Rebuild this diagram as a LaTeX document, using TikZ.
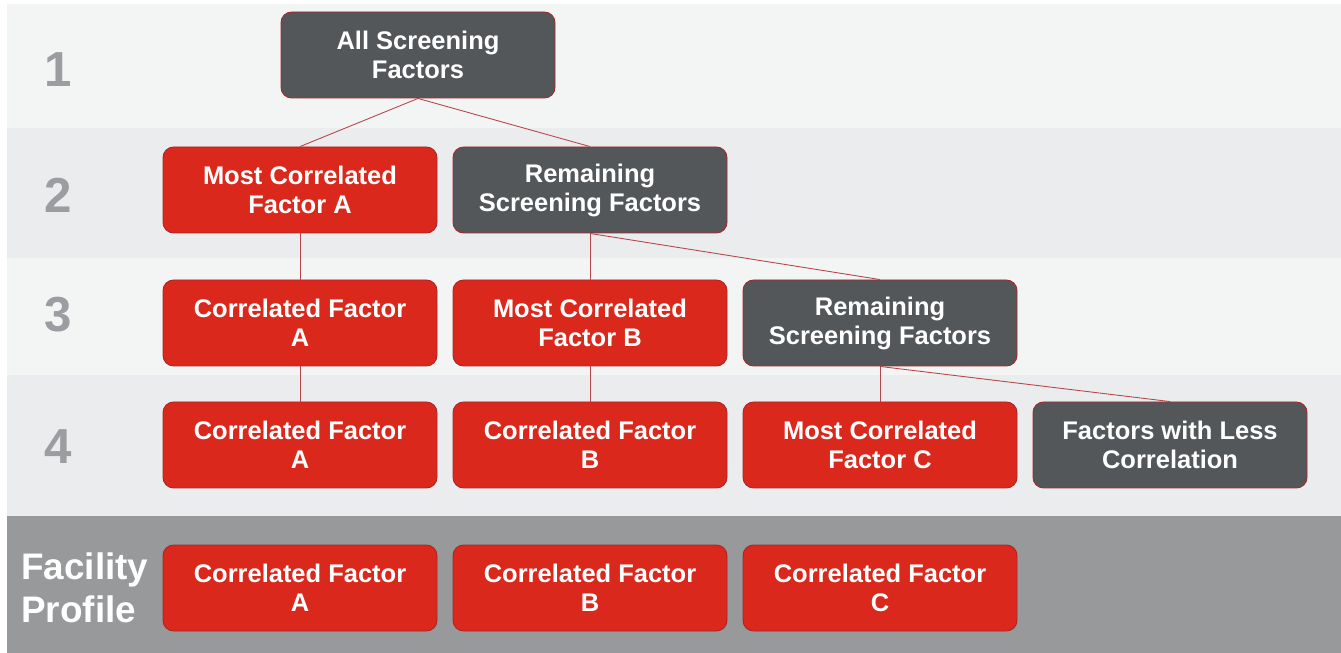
\documentclass[tikz,border=0pt]{standalone}
\usepackage{fontspec}
\setmainfont{Liberation Sans}
\usepackage{xcolor}
\usetikzlibrary{positioning,calc,backgrounds}

\definecolor{bandLight}{HTML}{F3F4F4}
\definecolor{bandDark}{HTML}{EBECEE}
\definecolor{bandGray}{HTML}{97999B}
\definecolor{factRed}{HTML}{DA291C}
\definecolor{factGray}{HTML}{54575A}
\definecolor{edgeRed}{HTML}{A8262A}
\definecolor{numGray}{HTML}{9B9DA0}

\begin{document}
\begin{tikzpicture}[
    font=\bfseries\fontsize{14.5}{16.5}\selectfont,
    factorBox/.style={
        rectangle, rounded corners=6pt, draw=edgeRed, line width=0.5pt,
        minimum width=5.48cm, minimum height=1.72cm, align=center,
        inner sep=2pt, text=white
    },
    redBox/.style={factorBox, fill=factRed},
    grayBox/.style={factorBox, fill=factGray},
    rowNum/.style={
        text=numGray, font=\bfseries\fontsize{28}{30}\selectfont
    },
    treeLine/.style={draw=edgeRed!85, line width=0.5pt}
]

\useasboundingbox (0,0) rectangle (26.82,-13.06);

% Row bands
\fill[bandLight] (0.14,-0.08) rectangle (26.82,-2.56);
\fill[bandDark]  (0.14,-2.56) rectangle (26.82,-5.16);
\fill[bandLight] (0.14,-5.16) rectangle (26.82,-7.50);
\fill[bandDark]  (0.14,-7.50) rectangle (26.82,-10.32);
\fill[bandGray]  (0.14,-10.32) rectangle (26.82,-13.06);

% Row labels
\node[rowNum] (num1) at (1.16,-1.40) {1};
\node[rowNum] (num2) at (1.16,-3.90) {2};
\node[rowNum] (num3) at (1.16,-6.30) {3};
\node[rowNum] (num4) at (1.16,-8.94) {4};
\node[text=white, align=left, anchor=west,
      font=\bfseries\fontsize{21}{24.4}\selectfont] (profile) at (0.30,-11.76)
    {Facility\\Profile};

% Row 1
\node[grayBox] (all) at (8.36,-1.10) {All Screening\\Factors};

% Row 2
\node[redBox]  (mostA) at (6.0,-3.80) {Most Correlated\\Factor A};
\node[grayBox] (rest2) at (11.8,-3.80) {Remaining\\Screening Factors};

% Row 3
\node[redBox]  (corrA3) at (6.0,-6.46) {Correlated Factor\\A};
\node[redBox]  (mostB)  at (11.8,-6.46) {Most Correlated\\Factor B};
\node[grayBox] (rest3)  at (17.6,-6.46) {Remaining\\Screening Factors};

% Row 4
\node[redBox]  (corrA4) at (6.0,-8.90) {Correlated Factor\\A};
\node[redBox]  (corrB4) at (11.8,-8.90) {Correlated Factor\\B};
\node[redBox]  (mostC)  at (17.6,-8.90) {Most Correlated\\Factor C};
\node[grayBox] (less)   at (23.4,-8.90) {Factors with Less\\Correlation};

% Facility profile
\node[redBox] (profA) at (6.0,-11.76) {Correlated Factor\\A};
\node[redBox] (profB) at (11.8,-11.76) {Correlated Factor\\B};
\node[redBox] (profC) at (17.6,-11.76) {Correlated Factor\\C};

% Tree links
\draw[treeLine] (all.south) -- (mostA.north);
\draw[treeLine] (all.south) -- (rest2.north);
\draw[treeLine] (mostA.south) -- (corrA3.north);
\draw[treeLine] (corrA3.south) -- (corrA4.north);
\draw[treeLine] (rest2.south) -- (mostB.north);
\draw[treeLine] (rest2.south) -- (rest3.north);
\draw[treeLine] (mostB.south) -- (corrB4.north);
\draw[treeLine] (rest3.south) -- (mostC.north);
\draw[treeLine] (rest3.south) -- (less.north);

\end{tikzpicture}
\end{document}
